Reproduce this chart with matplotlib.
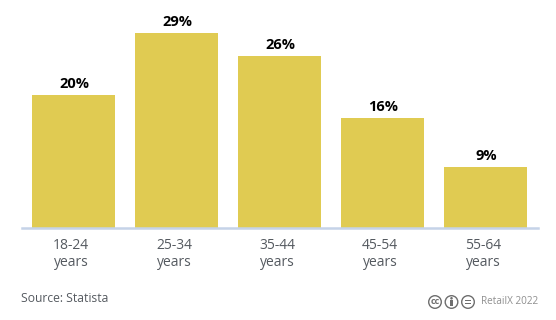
from matplotlib import pyplot as plt
from matplotlib.patches import Circle, Rectangle
from matplotlib.transforms import ScaledTranslation

categories = ['18-24\nyears', '25-34\nyears', '35-44\nyears', '45-54\nyears', '55-64\nyears']
values = [19.8, 29, 25.6, 16.4, 9.1]
labels = ['20%', '29%', '26%', '16%', '9%']

plt.rcParams['font.family'] = ['Open Sans', 'DejaVu Sans']

fig = plt.figure(figsize=(5.56, 3.2), dpi=100)
ax = fig.add_axes([22 / 556, (320 - 228) / 320, 516 / 556, 208 / 320])

bars = ax.bar(range(len(values)), values, width=0.806, color='#e0cb52')
for bar, label in zip(bars, labels):
    ax.annotate(label, (bar.get_x() + bar.get_width() / 2, bar.get_height()),
                xytext=(0.7, 3), textcoords='offset points', ha='center', va='bottom',
                fontsize=10.5, fontweight='bold', color='black')

ax.set_xlim(-0.5, 4.51)
ax.set_ylim(0, 208 / 6.72)
ax.set_yticks([])
ax.set_xticks(range(len(values)))
ax.set_xticklabels(categories, fontsize=10, color='#555a60', linespacing=1.25)
ax.tick_params(axis='x', length=0, pad=7)
# labels sit a little left of the bar centres in the original
shift = ScaledTranslation(-2.5 / 100, 0, fig.dpi_scale_trans)
for tick in ax.get_xticklabels():
    tick.set_transform(tick.get_transform() + shift)
for side in ['top', 'left', 'right']:
    ax.spines[side].set_visible(False)
ax.spines['bottom'].set_color('#c5d3e8')
ax.spines['bottom'].set_linewidth(1.8)

fig.text(21 / 556, 1 - 298 / 320, 'Source: Statista', fontsize=8.7, color='#555a60', va='center')
fig.text(538.5 / 556, 1 - 302 / 320, 'RetailX 2022', fontsize=7.2, color='#8f8f8f', va='center', ha='right')

# cc badges
overlay = fig.add_axes([0, 0, 1, 1])
overlay.set_xlim(0, 556)
overlay.set_ylim(320, 0)
overlay.axis('off')
badge = '#6e6e6e'
for x in [435, 451.5, 468]:
    overlay.add_patch(Circle((x, 302), 6.3, fill=False, ec=badge, lw=1))
overlay.text(435, 301.7, 'cc', fontsize=6.5, fontweight='bold', color=badge, ha='center', va='center')
overlay.add_patch(Circle((451.5, 298.3), 1.3, fc=badge, ec='none'))
overlay.add_patch(Rectangle((449.8, 300.3), 3.4, 6, fc=badge, ec='none'))
overlay.add_patch(Rectangle((465, 299.9), 6, 1.1, fc=badge, ec='none'))
overlay.add_patch(Rectangle((465, 303), 6, 1.1, fc=badge, ec='none'))

fig.savefig('out.png', dpi=100)
